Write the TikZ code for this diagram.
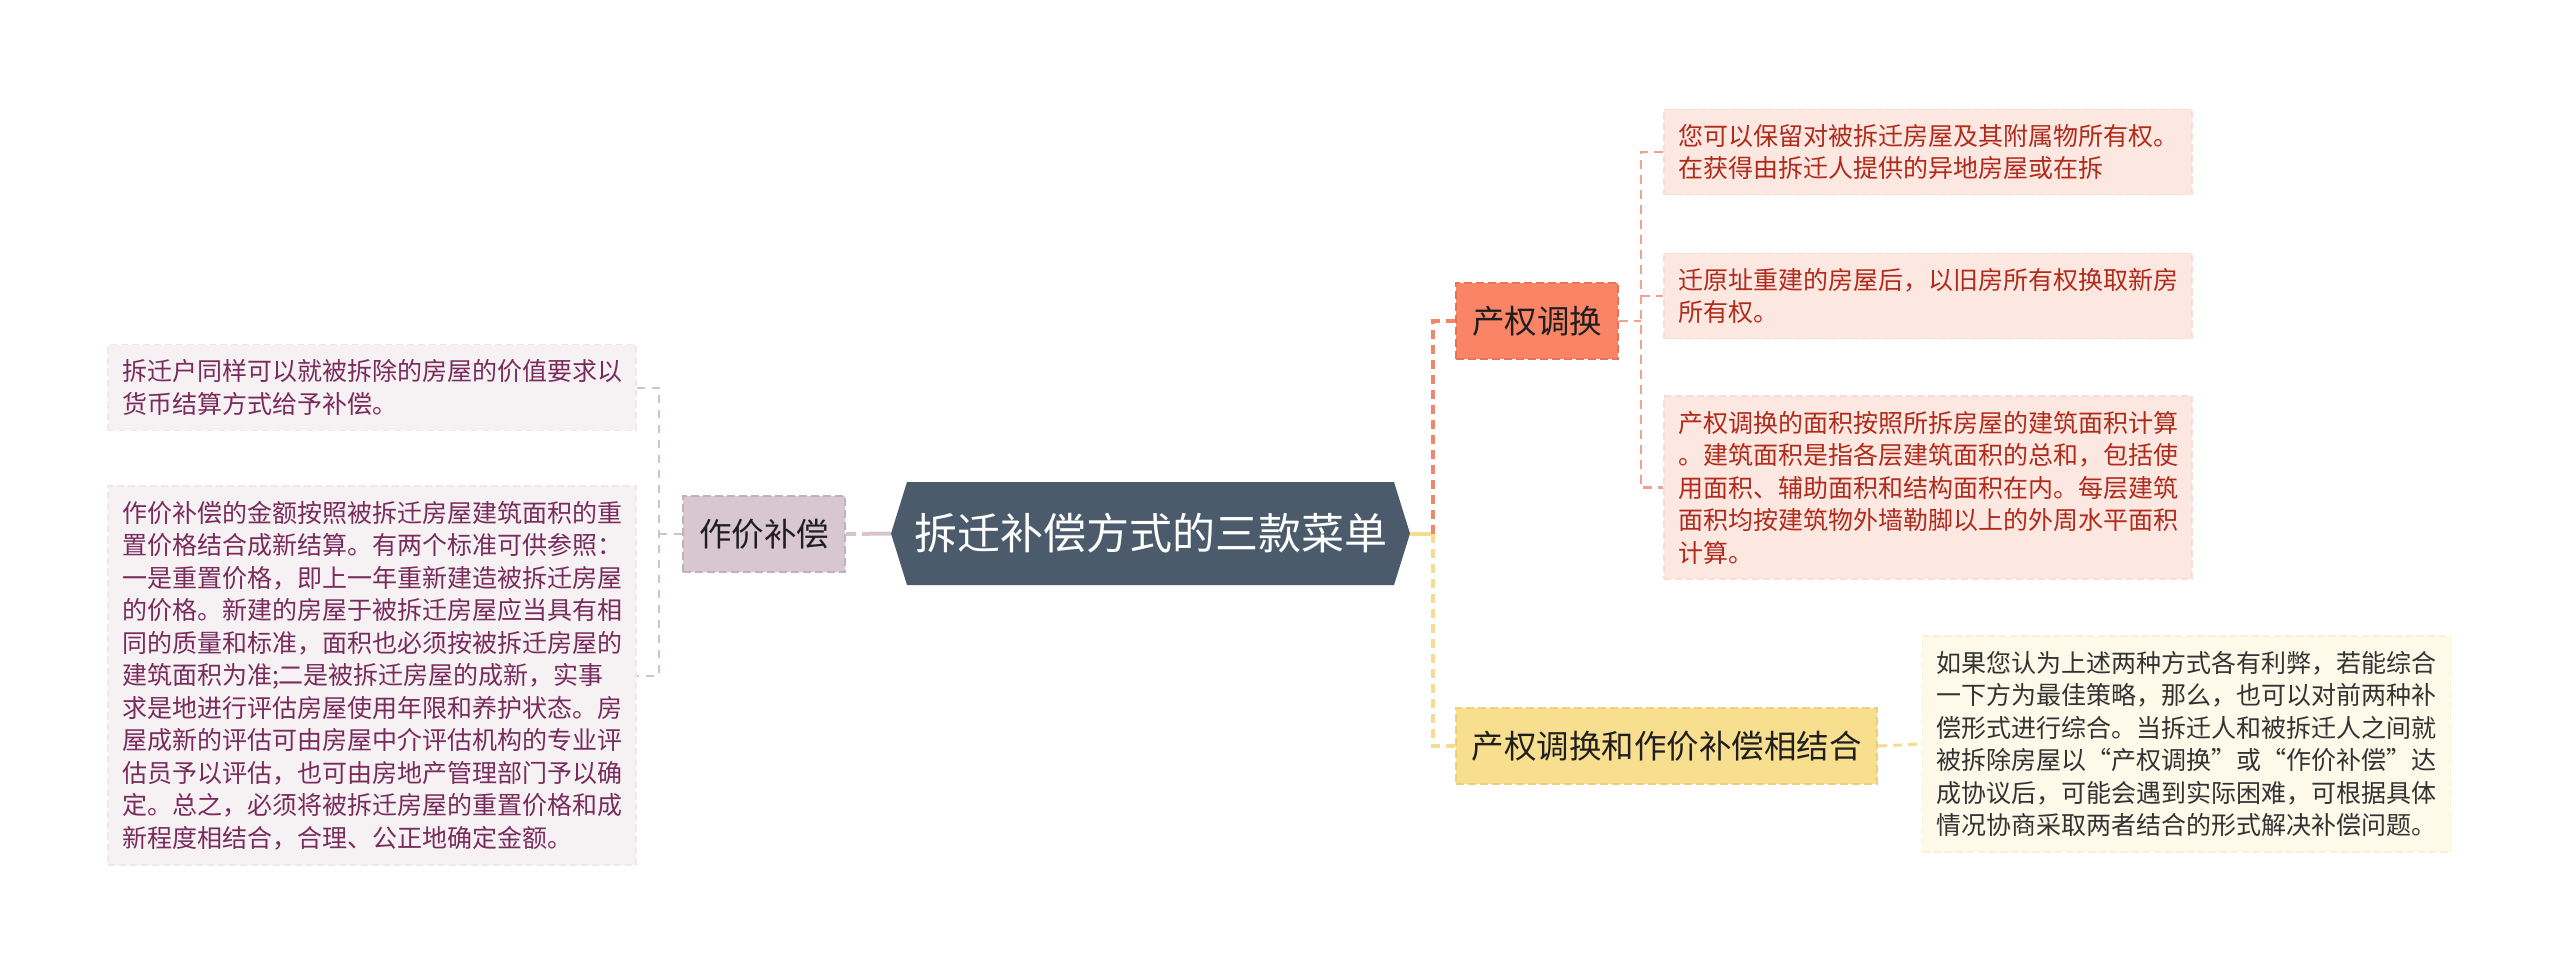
\documentclass[tikz,border=0pt]{standalone}
\usepackage{fontspec}
\setmainfont{Noto Sans CJK SC}
\usetikzlibrary{calc}
\definecolor{hexfill}{HTML}{4B5B6B}
\definecolor{zjfill}{HTML}{D9C7D0}
\definecolor{zjdraw}{HTML}{C4AFBA}
\definecolor{cqfill}{HTML}{FA8466}
\definecolor{cqdraw}{HTML}{EC7256}
\definecolor{ynfill}{HTML}{F8DE8F}
\definecolor{yndraw}{HTML}{EED07A}
\definecolor{lfill}{HTML}{F6F1F3}
\definecolor{ldraw}{HTML}{EFE7EB}
\definecolor{ltext}{HTML}{7A2B5E}
\definecolor{rfill}{HTML}{FDE7E1}
\definecolor{rdraw}{HTML}{FADCD3}
\definecolor{rtext}{HTML}{AF2B1B}
\definecolor{yfill}{HTML}{FEF9E9}
\definecolor{ydraw}{HTML}{F8F0D8}
\definecolor{ytext}{HTML}{333333}
\definecolor{lline}{HTML}{CFC4CA}
\definecolor{zjline}{HTML}{D6C5CE}
\definecolor{orline}{HTML}{F0876C}
\definecolor{orthinline}{HTML}{F2A090}
\definecolor{yelline}{HTML}{F5DC90}
\begin{document}
\begin{tikzpicture}[x=1pt,y=-1pt,
  topic/.style={dash pattern=on 8pt off 4pt, line width=2pt, minimum width=162pt,
    minimum height=76pt, inner sep=0pt, font=\fontsize{32.5}{39}\selectfont, text=black!88},
  leaf/.style={dash pattern=on 7pt off 4pt, line width=1.2pt, text width=500pt,
    inner xsep=14pt, inner ysep=15pt, align=left, font=\fontsize{25}{32.5}\selectfont},
  lleaf/.style={leaf, fill=lfill, draw=ldraw, text=ltext},
  rleaf/.style={leaf, fill=rfill, draw=rdraw, text=rtext},
  yleaf/.style={leaf, fill=yfill, draw=ydraw, text=ytext},
  lconn/.style={draw=lline, line width=2pt, dash pattern=on 8pt off 7pt},
  zjconn/.style={draw=zjline, line width=4pt, dash pattern=on 10pt off 6pt on 40pt off 0pt},
  orconn/.style={draw=orline, line width=4pt, dash pattern=on 9pt off 6pt},
  orthin/.style={draw=orthinline, line width=2.5pt, dash pattern=on 9pt off 6pt},
  yelconn/.style={draw=yelline, line width=4pt, dash pattern=on 9pt off 6pt},
  yelsolid/.style={draw=yelline, line width=4pt},
  yelthin/.style={draw=yelline, line width=3pt, dash pattern=on 9pt off 6pt}
]
\useasboundingbox[fill=white] (0,0) rectangle (2560,977);

% root hexagon
\coordinate (rootL) at (891,533.5);
\coordinate (rootR) at (1410,533.5);
\fill[hexfill] (rootL) -- (907,482) -- (1394,482) -- (rootR) -- (1394,585) -- (907,585) -- cycle;
\node[text=white, font=\fontsize{43}{52}\selectfont, inner sep=0pt] (root) at (1150.5,533.5) {拆迁补偿方式的三款菜单};

% main topics
\node[topic, fill=zjfill, draw=zjdraw] (zj) at (764,534) {作价补偿};
\node[topic, fill=cqfill, draw=cqdraw] (cq) at (1537,321) {产权调换};
\node[topic, fill=ynfill, draw=yndraw, minimum width=421pt] (yn) at (1666.5,746) {产权调换和作价补偿相结合};

% left leaves
\node[lleaf] (l1) at (372,387.5) {拆迁户同样可以就被拆除的房屋的价值要求以\\货币结算方式给予补偿。};
\node[lleaf] (l2) at (372,675.5) {作价补偿的金额按照被拆迁房屋建筑面积的重\\置价格结合成新结算。有两个标准可供参照：\\一是重置价格，即上一年重新建造被拆迁房屋\\的价格。新建的房屋于被拆迁房屋应当具有相\\同的质量和标准，面积也必须按被拆迁房屋的\\建筑面积为准;二是被拆迁房屋的成新，实事\\求是地进行评估房屋使用年限和养护状态。房\\屋成新的评估可由房屋中介评估机构的专业评\\估员予以评估，也可由房地产管理部门予以确\\定。总之，必须将被拆迁房屋的重置价格和成\\新程度相结合，合理、公正地确定金额。};

% right leaves
\node[rleaf] (r1) at (1928,152) {您可以保留对被拆迁房屋及其附属物所有权。\\在获得由拆迁人提供的异地房屋或在拆};
\node[rleaf] (r2) at (1928,296) {迁原址重建的房屋后，以旧房所有权换取新房\\所有权。};
\node[rleaf] (r3) at (1928,487.5) {产权调换的面积按照所拆房屋的建筑面积计算\\。建筑面积是指各层建筑面积的总和，包括使\\用面积、辅助面积和结构面积在内。每层建筑\\面积均按建筑物外墙勒脚以上的外周水平面积\\计算。};
\node[yleaf] (yb) at (2186.5,744) {如果您认为上述两种方式各有利弊，若能综合\\一下方为最佳策略，那么，也可以对前两种补\\偿形式进行综合。当拆迁人和被拆迁人之间就\\被拆除房屋以“产权调换”或“作价补偿”达\\成协议后，可能会遇到实际困难，可根据具体\\情况协商采取两者结合的形式解决补偿问题。};

% left connectors
\coordinate (ltrunk) at (659,534);
\draw[zjconn] (zj.east) -- (rootL);
\draw[lconn] (zj.west) -- (ltrunk);
\draw[lconn] (l1.east) -| (ltrunk) |- (l2.east);

% right connectors
\coordinate (rtrunk) at (1433,533.5);
\draw[yelsolid] (rootR) -- (rtrunk);
\draw[orconn] (rtrunk) |- (cq.west);
\draw[yelconn] (rtrunk) |- (yn.west);

\coordinate (r2trunk) at (1641,321);
\draw[orthin] (cq.east) -- (r2trunk);
\draw[orthin] (r1.west) -| (r2trunk) |- (r3.west);
\draw[orthin] (r2trunk |- r2.west) -- (r2.west);

\draw[yelthin] (yn.east) -- (yb.west);
\end{tikzpicture}
\end{document}
